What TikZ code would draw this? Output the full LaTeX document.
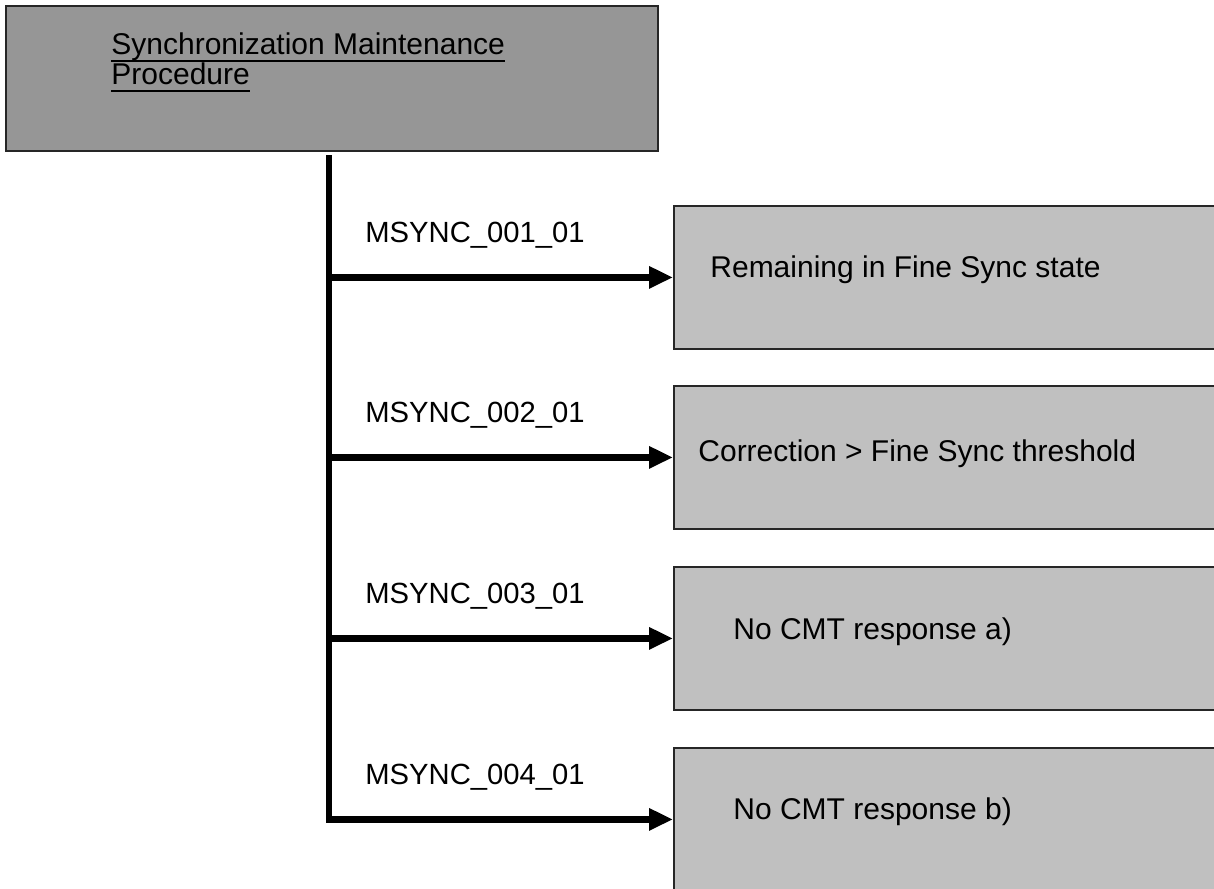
\documentclass[tikz,border=0pt]{standalone}
\usepackage{fontspec}
\setmainfont{Liberation Sans}
\usetikzlibrary{arrows.meta}
\definecolor{maingray}{HTML}{969696}
\definecolor{casegray}{HTML}{C0C0C0}
\newcommand{\undl}[1]{\setbox0\hbox{#1}\rlap{\rule[-3.4pt]{\wd0}{1pt}}\box0}
\begin{document}
\begin{tikzpicture}[x=0.5pt, y=-0.5pt, font=\fontsize{14.6}{15}\selectfont, line join=miter,
	>={Triangle[length=12pt,width=10.5pt]},
	blk/.style={draw=black!85, line width=0.9pt, inner sep=0pt, anchor=north west},
	lbl/.style={anchor=base west, inner sep=0pt},
	txt/.style={lbl, font=\fontsize{15}{15}\selectfont}]
	\useasboundingbox (0,0) rectangle (1214,888);
	\clip (0,0) rectangle (1214,888);
	% boxes
	\node[blk, fill=maingray, minimum width=326pt, minimum height=72.5pt] (main) at (5,5) {};
	\foreach \i/\y in {1/205,2/385,3/566,4/747}
	\node[blk, fill=casegray, minimum width=300pt, minimum height=71.5pt] (c\i) at (673,\y) {};
	\node[txt] (title) at (111,55) {\undl{Synchronization Maintenance}};
	\node[txt] (title2) at (111,85) {\undl{Procedure}};
	% connectors
	\path (329,155) coordinate (T);
	\draw[->, line width=3.4pt] (T) |- (c4.west);
	\foreach \i in {1,2,3}
	\draw[->, line width=3.4pt] (T |- c\i.west) -- (c\i.west);
	% labels
	\foreach \i/\y in {1/242,2/422,3/603,4/784}
	\node[lbl] (m\i) at (365,\y) {MSYNC\_00\i\_01};
	\node[txt] (t1) at (710,277) {Remaining in Fine Sync state};
	\node[txt] (t2) at (698,461) {Correction > Fine Sync threshold};
	\node[txt] (t3) at (733,639) {No CMT response a)};
	\node[txt] (t4) at (733,819) {No CMT response b)};
\end{tikzpicture}
\end{document}
